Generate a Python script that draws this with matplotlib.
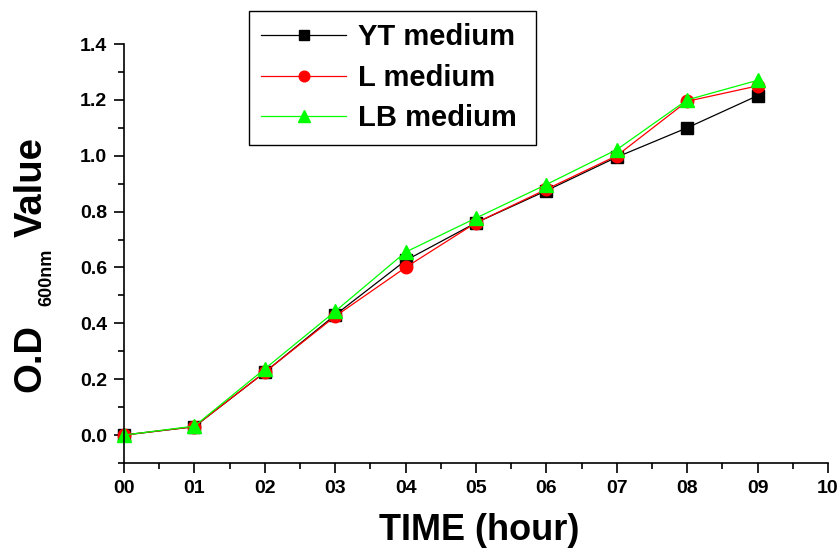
import numpy as np
import matplotlib
matplotlib.use("Agg")
import matplotlib.pyplot as plt
from matplotlib.ticker import MultipleLocator, FixedLocator

# growth curve readings, one per hour
hours = [0, 1, 2, 3, 4, 5, 6, 7, 8, 9]
yt_medium = [0.0, 0.03, 0.225, 0.43, 0.625, 0.76, 0.875, 0.995, 1.10, 1.215]
l_medium = [0.0, 0.03, 0.225, 0.425, 0.60, 0.76, 0.88, 1.0, 1.195, 1.25]
lb_medium = [0.0, 0.032, 0.237, 0.443, 0.655, 0.777, 0.897, 1.022, 1.20, 1.27]

x_tick_labels = ["00", "01", "02", "03", "04", "05", "06", "07", "08", "09", "10"]
y_ticks = [0.0, 0.2, 0.4, 0.6, 0.8, 1.0, 1.2, 1.4]

plt.rcParams['font.family'] = ['Liberation Sans', 'DejaVu Sans']
plt.rcParams['font.weight'] = 'bold'

W, H = 840, 554
fig = plt.figure(figsize=(W / 100, H / 100), dpi=100, facecolor='white')
ax = fig.add_axes([124 / W, 1 - 463 / H, (828 - 124) / W, (463 - 44) / H])

series = [
    (yt_medium, 'black', 's', 'YT medium', 8.5),
    (l_medium, '#ff0000', 'o', 'L medium', 9),
    (lb_medium, '#00ff00', '^', 'LB medium', 10),
]
for vals, color, marker, label, ms in series:
    ax.plot(hours, vals, color=color, lw=0.9, marker=marker, ms=ms,
            markerfacecolor=color, markeredgecolor=color, label=label, clip_on=False)

ax.set_xlim(0, 10)
ax.set_ylim(-0.1, 1.4)

ax.xaxis.set_major_locator(FixedLocator(range(len(x_tick_labels))))
ax.set_xticklabels(x_tick_labels)
ax.xaxis.set_minor_locator(MultipleLocator(0.5))
ax.yaxis.set_major_locator(FixedLocator(y_ticks))
ax.set_yticklabels([f"{v:.1f}" for v in y_ticks])
ax.yaxis.set_minor_locator(MultipleLocator(0.1))

for side in ('top', 'right'):
    ax.spines[side].set_visible(False)
for side in ('left', 'bottom'):
    ax.spines[side].set_linewidth(1.2)

ax.tick_params(which='major', direction='out', length=7, width=1.2,
               labelsize=14, pad=5)
ax.tick_params(which='minor', direction='out', length=4, width=1.2)
for lbl in ax.get_xticklabels() + ax.get_yticklabels():
    lbl.set_fontweight('bold')

# axis titles
fig.text(479 / W, 1 - 540 / H, "TIME (hour)", fontsize=26, fontweight='bold',
         ha='center', va='baseline')

ylab_kw = dict(rotation=90, rotation_mode='anchor', ha='left', va='baseline',
               fontweight='bold')
fig.text(40 / W, 1 - 392 / H, "O.D", fontsize=27.5, **ylab_kw)
fig.text(51 / W, 1 - 306 / H, "600nm", fontsize=13, **ylab_kw)
fig.text(42 / W, 1 - 237 / H, "Value", fontsize=27.5, **ylab_kw)

# legend box stretched to a fixed width
leg = ax.legend(loc='upper left',
                bbox_to_anchor=(249 / W, 1 - 141 / H, (536 - 249) / W, 130 / H),
                bbox_transform=fig.transFigure, borderaxespad=0, mode='expand',
                fancybox=False, framealpha=1, edgecolor='black',
                prop={'size': 21, 'weight': 'bold'}, handlelength=2.9,
                handletextpad=0.4, labelspacing=0.43, borderpad=0.42,
                markerscale=0.85)
leg.get_frame().set_linewidth(1.0)

fig.savefig("out.png", dpi=100, facecolor='white')
